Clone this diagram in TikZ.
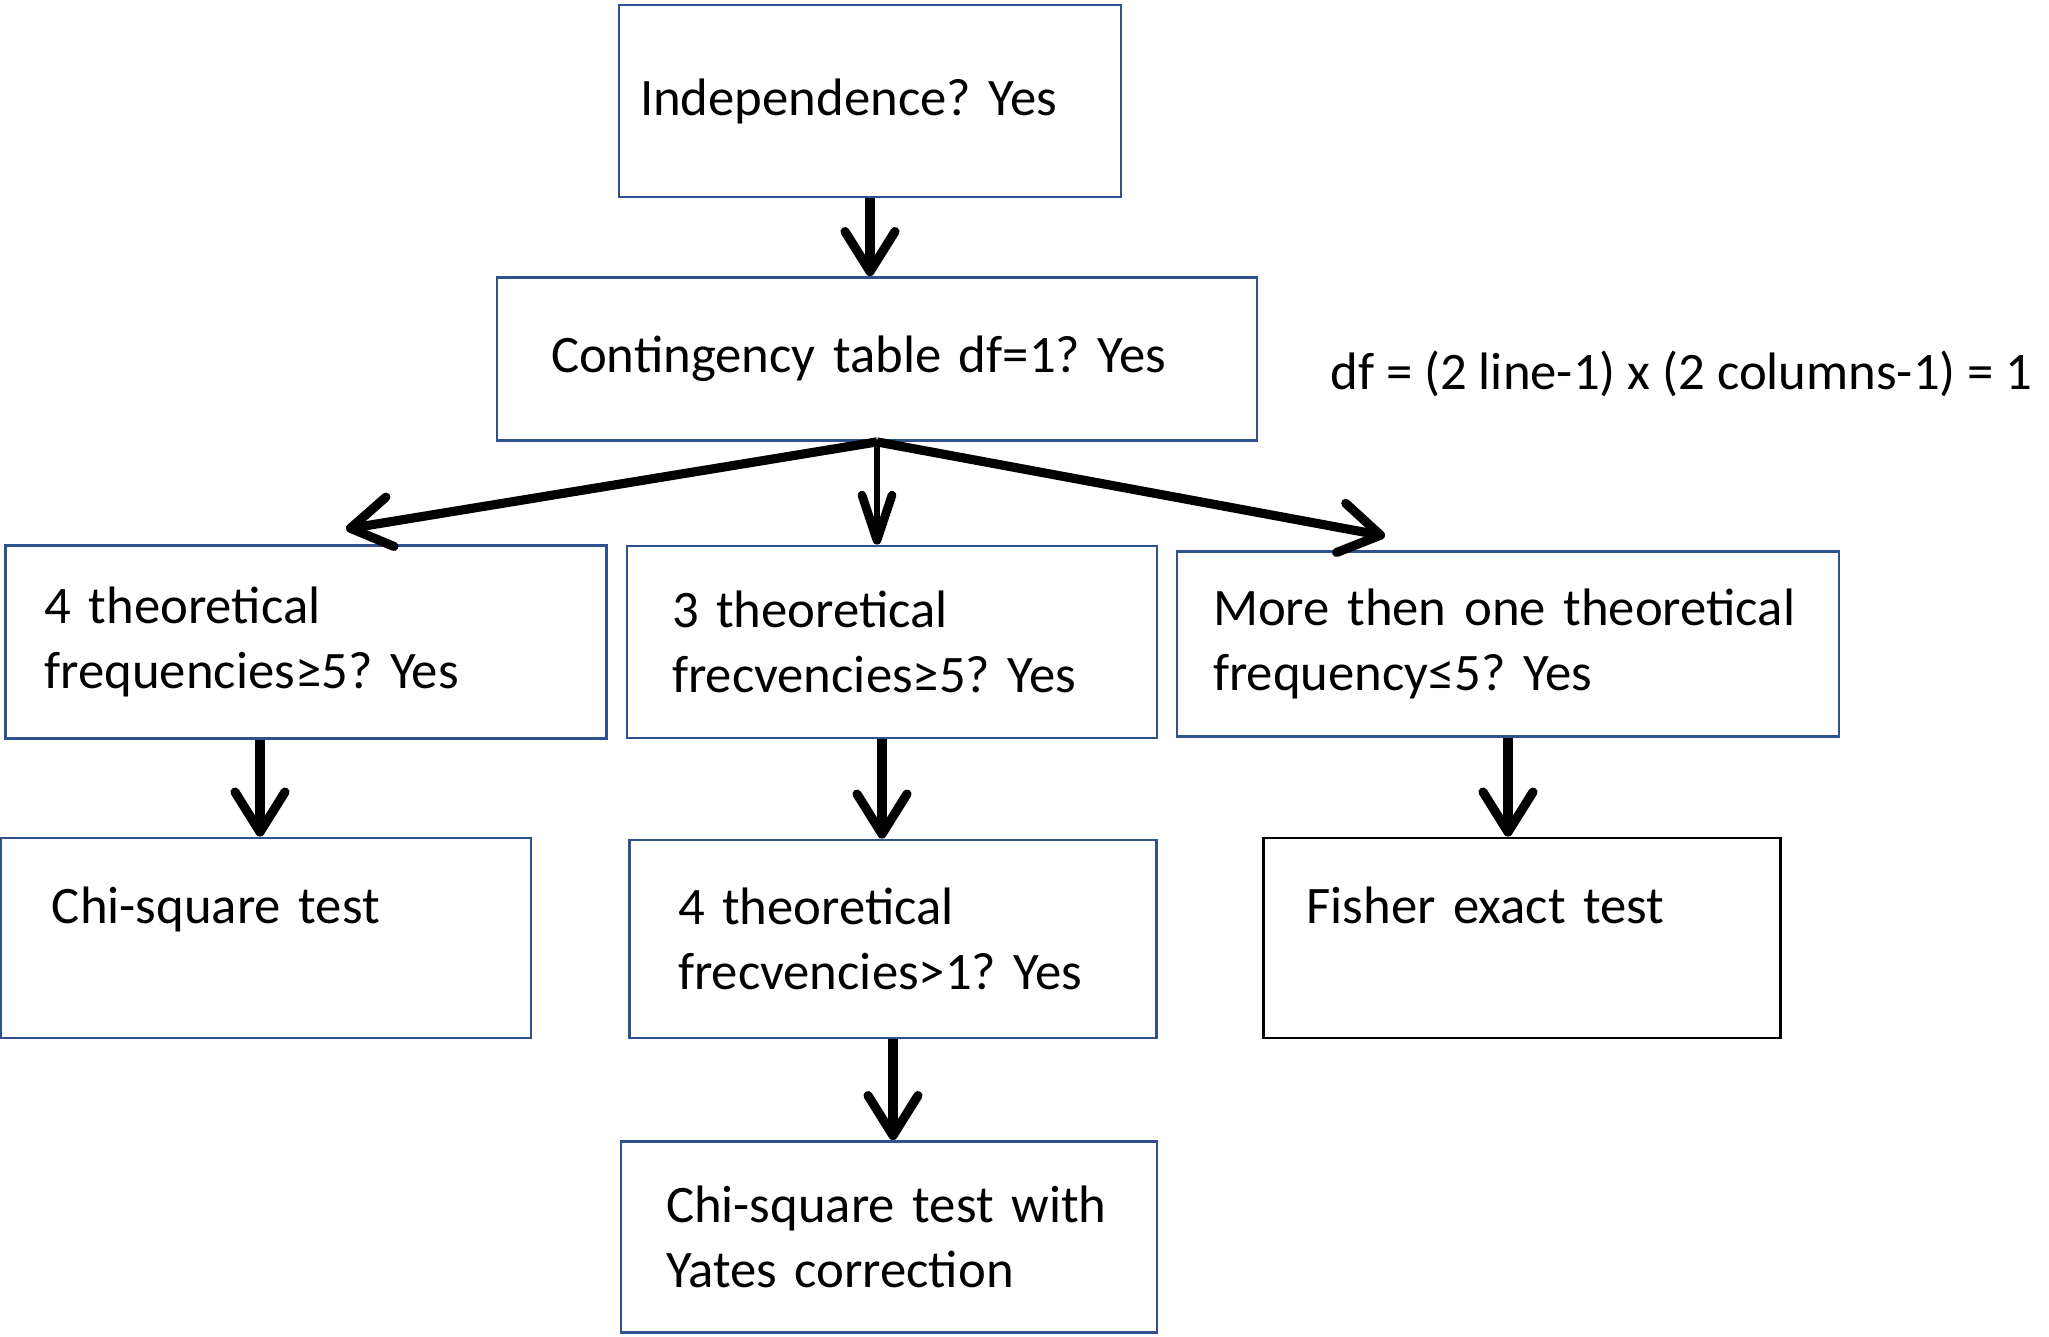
\documentclass[tikz,border=0pt]{standalone}
\usepackage{fontspec}
\setmainfont{Carlito}
\usetikzlibrary{arrows.meta}
\definecolor{boxblue}{HTML}{2F528F}

\begin{document}
\begin{tikzpicture}[font=\fontsize{15}{18.5}\selectfont\frenchspacing]
	\useasboundingbox (0,0) rectangle (20.49,-13.36);
	\begin{scope}[every node/.style={draw=boxblue,line width=0.8pt,align=left,inner sep=0pt}]
    	\node (A) at (8.70,-1.01) [minimum width=5.02cm,minimum height=1.92cm,text width=4.60cm] {Independence? Yes};
    	\node (B) at (8.77,-3.59) [minimum width=7.60cm,minimum height=1.63cm,text width=6.52cm] {Contingency table df=1? Yes};
    	\node (C1) at (3.06,-6.42) [minimum width=6.01cm,minimum height=1.93cm,text width=5.23cm] {4 theoretical\\frequencies≥5? Yes};
    	\node (C2) at (8.92,-6.42) [minimum width=5.30cm,minimum height=1.92cm,text width=4.40cm] {3 theoretical\\frecvencies≥5? Yes};
    	\node (C3) at (15.08,-6.44) [minimum width=6.62cm,minimum height=1.85cm,text width=5.90cm] {More then one theoretical\\frequency≤5? Yes};
    	\node (D1) at (2.66,-9.38) [minimum width=5.30cm,minimum height=2.00cm,text width=4.28cm] {Chi-square test\\\mbox{}};
    	\node (D2) at (8.93,-9.39) [minimum width=5.27cm,minimum height=1.98cm,text width=4.30cm] {4 theoretical\\frecvencies>1? Yes};
    	\node (D3) at (15.22,-9.38) [draw=black,minimum width=5.17cm,minimum height=2.00cm,text width=4.31cm] {Fisher exact test\\\mbox{}};
    	\node (E) at (8.89,-12.37) [minimum width=5.36cm,minimum height=1.91cm,text width=4.46cm] {Chi-square test with\\Yates correction};
	\end{scope}
	\node (df) at (13.18,-3.74) [anchor=west] {df = (2 line-1) x (2 columns-1) = 1};
	\coordinate (t1) at (3.46,-5.29);
	\coordinate (t3) at (13.85,-5.36);
	\begin{scope}[>={Straight Barb[length=4mm,width=5mm,round]},
              every edge/.style={draw,line width=2.6pt}]
    	\path [->] (A.south) edge (A.south |- B.north);
    	\path [->] (B.south) edge (t1);
    	\path [->] (B.south) edge (t3);
    	\path (B.south) edge[line width=1.6pt,-{Straight Barb[length=4.5mm,width=3mm,line width=2.5pt,round]}] (B.south |- C2.north);
    	\path [->] ([xshift=-0.06cm]D1.north |- C1.south) edge ([xshift=-0.06cm]D1.north);
    	\path [->] ([xshift=-0.1cm]C2.south) edge ([xshift=-0.1cm]C2.south |- D2.north);
    	\path [->] (C3.south) edge (C3.south |- D3.north);
    	\path [->] (D2.south) edge (D2.south |- E.north);
	\end{scope}
\end{tikzpicture}
\end{document}
